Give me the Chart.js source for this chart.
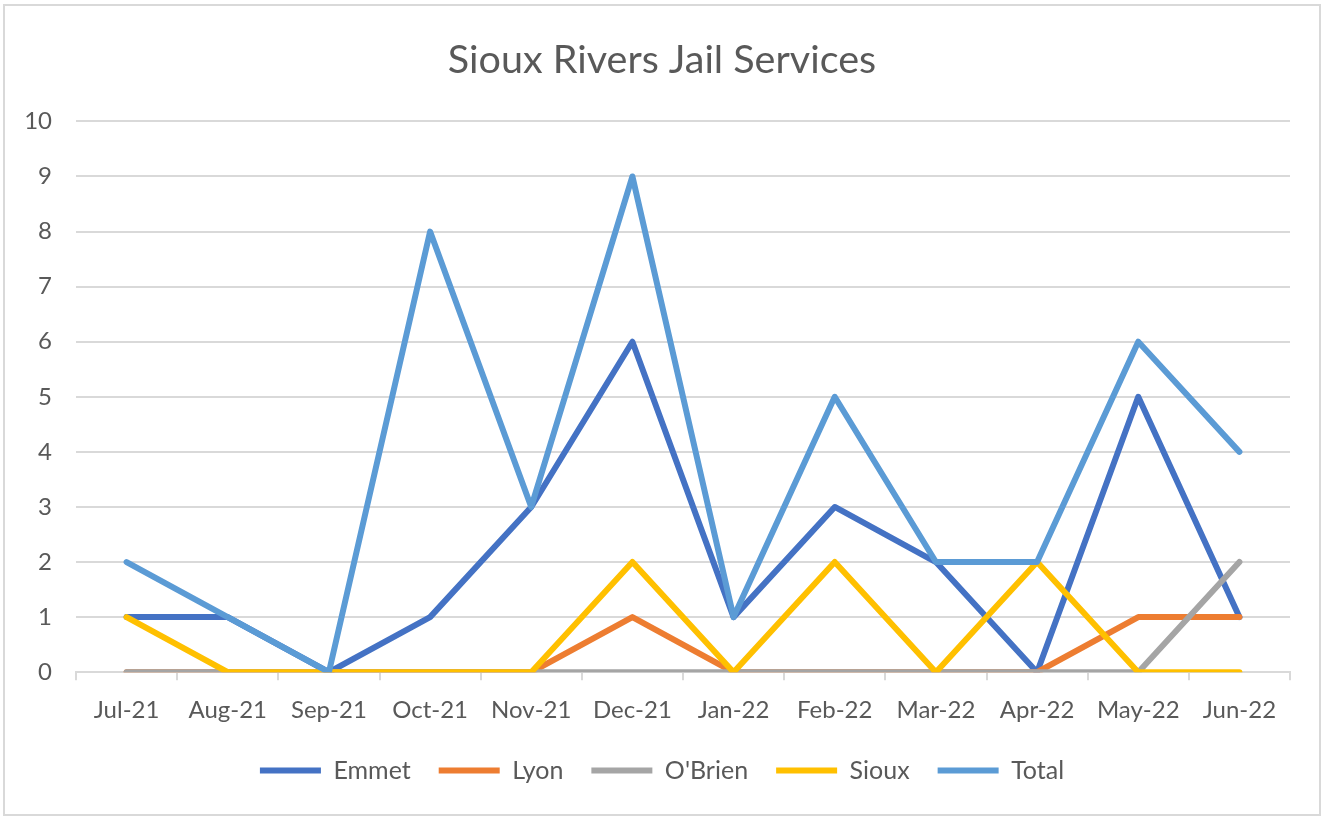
<!DOCTYPE html>
<html>
<head>
<meta charset="utf-8">
<title>Sioux Rivers Jail Services</title>
<script src="https://cdn.jsdelivr.net/npm/chart.js@4/dist/chart.umd.min.js"></script>
<style>
  html, body { margin: 0; padding: 0; background: #fff; }
  #wrap { position: relative; width: 1324px; height: 816px; }
  #frame {
    position: absolute; left: 3px; top: 4px; width: 1314px; height: 808px;
    border: 2px solid #d9d9d9; pointer-events: none;
  }
</style>
</head>
<body>
<div id="wrap">
  <canvas id="chart" width="1324" height="816"></canvas>
  <div id="frame"></div>
</div>
<script>
// months on the x axis
const months = ["Jul-21", "Aug-21", "Sep-21", "Oct-21", "Nov-21", "Dec-21",
                "Jan-22", "Feb-22", "Mar-22", "Apr-22", "May-22", "Jun-22"];

// series
const emmet  = [1, 1, 0, 1, 3, 6, 1, 3, 2, 0, 5, 1];
const lyon   = [0, 0, 0, 0, 0, 1, 0, 0, 0, 0, 1, 1];
const obrien = [0, 0, 0, 0, 0, 0, 0, 0, 0, 0, 0, 2];
const sioux  = [1, 0, 0, 0, 0, 2, 0, 2, 0, 2, 0, 0];
const total  = [2, 1, 0, 8, 3, 9, 1, 5, 2, 2, 6, 4];

const yTicks = [0, 1, 2, 3, 4, 5, 6, 7, 8, 9, 10];

const textColor = "#595959";
const gridColor = "#d9d9d9";
const fontFamily = "Lato, 'Open Sans', sans-serif";

function series(label, data, color, order) {
  return {
    label,
    data,
    borderColor: color,
    backgroundColor: color,
    borderWidth: 6,
    borderCapStyle: "round",
    borderJoinStyle: "round",
    pointRadius: 0,
    pointHoverRadius: 0,
    tension: 0,
    order
  };
}

// title and legend centred on the whole frame, not on the padded area
const centerBlocks = {
  id: "centerBlocks",
  afterLayout(chart) {
    [chart.titleBlock, chart.legend].forEach(box => {
      box.left = 0;
      box.right = chart.width;
    });
  }
};

new Chart(document.getElementById("chart"), {
  type: "line",
  data: {
    labels: months,
    datasets: [
      series("Emmet", emmet, "#4472C4", 5),
      series("Lyon", lyon, "#ED7D31", 4),
      series("O'Brien", obrien, "#A5A5A5", 3),
      series("Sioux", sioux, "#FFC000", 2),
      series("Total", total, "#5B9BD5", 1)
    ]
  },
  plugins: [centerBlocks],
  options: {
    responsive: false,
    animation: false,
    layout: { padding: { left: 0, right: 34, top: 0, bottom: 23 } },
    scales: {
      x: {
        offset: true,
        grid: {
          offset: true,
          drawOnChartArea: false,
          drawTicks: true,
          tickLength: 8,
          color: gridColor,
          lineWidth: 2
        },
        border: { color: gridColor, width: 2 },
        ticks: {
          color: textColor,
          font: { family: fontFamily, size: 24 },
          padding: 16,
          maxRotation: 0
        },
        afterFit: (scale) => { scale.height -= 11; }
      },
      y: {
        min: 0,
        max: 10,
        afterBuildTicks: (scale) => { scale.ticks = yTicks.map(v => ({ value: v })); },
        afterFit: (scale) => { scale.width = 76; },
        grid: { color: gridColor, lineWidth: 2, drawTicks: false },
        border: { display: false },
        ticks: {
          color: textColor,
          font: { family: fontFamily, size: 24 },
          padding: 24
        }
      }
    },
    plugins: {
      title: {
        display: true,
        text: "Sioux Rivers Jail Services",
        color: textColor,
        font: { family: fontFamily, size: 39.5, weight: "normal" },
        padding: { top: 37, bottom: 37 }
      },
      legend: {
        position: "bottom",
        labels: {
          color: textColor,
          font: { family: fontFamily, size: 25 },
          usePointStyle: true,
          pointStyle: "line",
          pointStyleWidth: 61,
          boxHeight: 6,
          padding: 28,
          sort: (a, b) => a.datasetIndex - b.datasetIndex
        }
      },
      tooltip: { enabled: false }
    }
  }
});
</script>
</body>
</html>
